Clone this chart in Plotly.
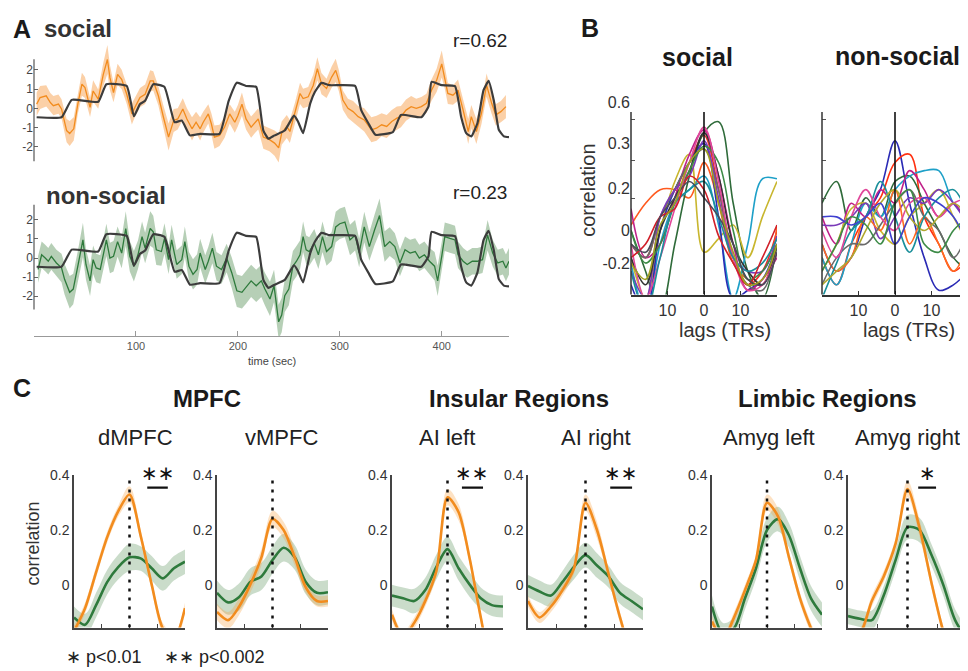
import plotly.graph_objects as go

# The page body has an 8px margin, so the figure is drawn 8px smaller and
# every reference pixel position is shifted by that offset.
W, H = 968, 671
OFF = 8
FIG_W, FIG_H = W - OFF, H - OFF
FONT = "Liberation Sans, Arial, sans-serif"

# ---------------- Panel A data ----------------
t_social = [2.6, 6, 12, 16, 19, 24, 27, 32, 35, 39, 43, 47, 50, 55, 58, 63, 68, 72, 74.5, 78,
            82, 86, 91, 96, 99, 104, 109, 114, 117, 122, 127, 132, 137, 141, 146, 150, 155, 159, 163, 166,
            171, 174, 177, 182, 187, 192, 197, 200, 204, 208, 213, 217, 220, 225, 231, 236, 240, 243, 248, 251,
            256, 261, 264, 269, 274, 278, 282, 287, 292, 296, 299, 303, 308, 313, 318, 324, 331, 336, 341, 346,
            351, 356, 360, 365, 370, 375, 380, 385, 390, 395, 400, 403, 406, 411, 416, 421, 426, 429, 434, 439,
            444, 449, 453, 458, 463]
social_mean = [0.22, 0.56, 0.65, 0.30, 0.14, 0.22, -0.03, -1.15, -1.30, -1.06,
               0.22, 1.25, 1.08, 0.05, 0.90, 0.48, 1.76, 2.53, 1.59, 0.82,
               1.76, 1.50, 0.73, -0.29, 0.05, 0.56, 0.73, 1.42, 1.42, 0.65,
               -0.46, -1.49, -0.63, -0.55, -0.03, -0.55, -1.06, -0.72, -1.06, -0.72,
               -0.29, -0.80, -1.49, -1.40, -0.97, -0.29, -0.72, -0.38, 0.22, -0.55,
               -0.97, -0.72, -0.55, -1.49, -1.62, -1.80, -2.05, -1.28, -0.94, -1.20,
               -0.26, 0.77, 0.51, 0.60, 1.20, 2.05, 1.28, 1.03, 1.62, 1.97,
               1.45, 0.43, 0.00, -0.17, -0.43, -0.60, -1.11, -1.03, -0.85, -0.94,
               -0.68, -0.51, -0.43, -0.09, 0.09, 0.00, 0.09, 0.26, 0.94, 1.45,
               2.30, 1.62, 0.77, 0.68, 0.94, -0.09, -1.20, -0.43, -1.20, -0.26,
               1.20, 0.26, -0.34, -0.17, 0.09]
social_sd = [0.6, 0.6, 0.55, 0.5, 0.5, 0.5, 0.5, 0.6, 0.65, 0.6,
             0.5, 0.6, 0.55, 0.5, 0.55, 0.5, 0.6, 0.75, 0.65, 0.5,
             0.55, 0.5, 0.5, 0.55, 0.5, 0.5, 0.5, 0.55, 0.5, 0.5,
             0.6, 0.7, 0.6, 0.55, 0.55, 0.55, 0.6, 0.55, 0.6, 0.55,
             0.5, 0.55, 0.6, 0.55, 0.55, 0.5, 0.55, 0.55, 0.6, 0.55,
             0.55, 0.55, 0.55, 0.6, 0.6, 0.65, 0.75, 0.6, 0.6, 0.6,
             0.55, 0.55, 0.5, 0.5, 0.55, 0.6, 0.55, 0.5, 0.55, 0.6,
             0.55, 0.5, 0.5, 0.55, 0.55, 0.6, 0.65, 0.65, 0.6, 0.6,
             0.6, 0.6, 0.55, 0.55, 0.55, 0.5, 0.5, 0.5, 0.55, 0.6,
             0.7, 0.6, 0.55, 0.5, 0.55, 0.55, 0.65, 0.6, 0.65, 0.55,
             0.6, 0.55, 0.55, 0.55, 0.6]

t_nonsocial = [4, 7.5, 11, 14, 17, 22, 27, 30, 35, 38.5, 43, 48, 51, 55, 58, 61, 65, 68, 71, 74.5,
               78, 82, 86, 90, 94, 98, 102, 106, 109, 114, 117, 120, 125, 128, 132, 135, 140, 145, 148, 152,
               156, 160, 163, 168, 171, 175, 179, 184, 189, 194, 199, 204, 208, 213, 218, 223, 226.5, 231.5, 235.5, 240,
               243, 246, 250, 254, 257.5, 261, 264, 267, 270, 275, 279, 283, 287, 292, 296, 300, 305, 310, 315, 319,
               324, 329, 334, 339, 344, 349, 354, 359, 364, 369, 374, 378, 383, 388, 393, 396, 400, 403, 408, 413,
               416, 421, 425, 430, 435, 440, 445, 450, 455, 460, 463, 466]
nonsocial_mean = [-0.60, 0.17, 0.00, -0.17, 0.09, -0.26, -0.52, -1.12, -1.80, -1.63,
                  -0.43, 0.95, -0.34, -1.20, -0.09, -0.52, -0.60, 0.26, 0.95, 0.00,
                  0.09, 0.86, 0.26, 1.55, 0.09, -0.43, 0.17, 1.12, 0.52, 1.55,
                  1.37, 0.43, 0.34, 1.03, -0.09, 0.95, -0.34, -0.09, 0.86, -0.43,
                  -0.86, -0.60, 0.26, -0.60, -0.17, 0.52, -0.43, -0.60, 0.00, -0.77,
                  -1.72, -1.80, -1.55, -1.20, -1.46, -1.20, -1.63, -2.15, -1.46, -3.35,
                  -3.00, -1.98, -1.63, -0.43, -0.17, 0.17, 1.12, 0.43, 0.34, 0.77,
                  0.17, 1.12, 0.34, 0.60, 1.63, 1.80, 1.89, 0.95, 1.20, 0.26,
                  1.63, 0.60, 1.46, 2.23, 0.60, 0.86, 0.60, -0.26, 0.43, 0.26,
                  0.34, 0.00, 0.17, -0.17, -0.43, -1.20, 0.09, 1.12, 1.03, 0.95,
                  0.17, -0.17, -0.34, -0.17, -0.17, -0.09, 1.20, 0.26, -0.26, -0.17,
                  -0.52, -0.17]
nonsocial_sd = [0.7, 0.7, 0.7, 0.7, 0.7, 0.7, 0.75, 0.8, 0.85, 0.8,
                0.8, 0.9, 0.8, 0.8, 0.75, 0.75, 0.75, 0.8, 0.85, 0.8,
                0.8, 0.8, 0.8, 0.9, 0.8, 0.8, 0.75, 0.8, 0.8, 0.9,
                0.85, 0.8, 0.75, 0.8, 0.75, 0.8, 0.75, 0.75, 0.8, 0.75,
                0.8, 0.8, 0.75, 0.75, 0.75, 0.8, 0.75, 0.75, 0.75, 0.8,
                0.85, 0.85, 0.85, 0.85, 0.85, 0.85, 0.85, 0.9, 0.85, 0.9,
                0.9, 0.85, 0.85, 0.8, 0.8, 0.75, 0.8, 0.75, 0.75, 0.75,
                0.75, 0.8, 0.75, 0.75, 0.8, 0.8, 0.8, 0.8, 0.8, 0.75,
                0.8, 0.75, 0.8, 0.9, 0.8, 0.75, 0.7, 0.7, 0.7, 0.7,
                0.7, 0.7, 0.7, 0.7, 0.75, 0.8, 0.75, 0.75, 0.75, 0.75,
                0.7, 0.7, 0.7, 0.7, 0.7, 0.7, 0.8, 0.7, 0.7, 0.7,
                0.7, 0.7]

t_model = [2.6, 27, 37, 63, 71, 91, 98, 104, 109, 117, 128, 138, 145, 153, 163, 182, 191, 199, 208, 218,
           225, 230, 236, 246, 255, 259, 264, 271, 275.5, 282, 290, 315, 321, 328, 335, 352, 360, 380, 387, 390,
           400, 413, 419, 424, 429, 435, 441, 446, 451, 456, 461, 466]
model_values = [-0.46, -0.46, 0.44, 0.34, 1.25, 1.16, -0.41, 0.22, 0.39, 1.25,
                1.11, -0.72, -0.63, -1.40, -1.32, -1.32, 0.39, 1.33, 1.16, 1.11,
                -1.15, -1.57, -1.40, -1.15, -0.38, -0.68, -1.28, 0.26, 0.85, 1.32,
                1.20, 1.16, -0.09, -0.77, -1.37, -1.23, -0.34, -0.46, 0.09, 1.37,
                1.20, 1.15, -0.43, -1.28, -1.45, -0.77, 0.94, 1.42, 0.43, -1.11,
                -1.45, -1.49]
A_yticks = [-2, -1, 0, 1, 2]
A_xticks = [100, 200, 300, 400]
r_social = "r=0.62"
r_nonsocial = "r=0.23"

# ---------------- Panel B data ----------------
lags_B = [-20, -16, -12, -8, -4, 0, 4, 8, 12, 16, 20]
B_social_curves = [
    [-0.05, -0.10, 0.05, 0.15, 0.25, 0.35, 0.15, -0.10, -0.20, -0.15, 0.00],
    [0.02, 0.10, 0.15, 0.15, 0.12, 0.25, 0.10, -0.12, -0.18, -0.20, 0.02],
    [0.00, -0.15, -0.30, -0.05, 0.20, 0.36, 0.40, 0.10, -0.15, -0.25, -0.05],
    [-0.12, -0.30, -0.05, 0.10, 0.15, 0.20, 0.02, -0.25, -0.05, 0.19, 0.19],
    [-0.10, -0.25, 0.00, 0.18, 0.28, -0.08, -0.03, 0.02, -0.10, 0.05, 0.18],
    [-0.20, -0.30, 0.00, 0.15, 0.25, 0.32, 0.05, -0.25, -0.22, -0.18, -0.05],
    [0.08, -0.10, -0.05, 0.12, 0.28, 0.37, 0.20, -0.05, -0.22, -0.18, -0.10],
    [-0.05, -0.10, 0.05, 0.15, 0.25, 0.30, 0.15, -0.10, -0.20, -0.22, -0.05],
    [-0.15, -0.25, 0.05, 0.15, 0.20, 0.33, 0.12, -0.10, -0.15, -0.15, -0.02],
    [-0.10, -0.20, 0.00, 0.12, 0.22, 0.36, 0.20, -0.05, -0.15, -0.20, -0.05],
    [0.00, -0.12, -0.05, 0.10, 0.22, 0.31, 0.25, 0.00, -0.18, -0.15, -0.05],
    [-0.05, -0.25, -0.10, 0.08, 0.25, 0.38, 0.18, -0.10, -0.22, -0.20, -0.08],
    [-0.15, -0.30, -0.10, 0.10, 0.15, 0.18, 0.05, -0.10, -0.15, -0.12, -0.03],
    [-0.10, -0.05, 0.05, 0.08, 0.20, 0.15, -0.02, -0.12, -0.20, -0.10, 0.02],
    [-0.05, -0.08, 0.05, 0.12, 0.18, 0.12, 0.05, -0.05, -0.18, -0.20, -0.08],
    [-0.12, -0.18, 0.02, 0.10, 0.25, 0.30, 0.10, -0.08, -0.20, -0.18, -0.05],
]
B_social_colors = ['#e8302a', '#ff5a1f', '#2f6b3a', '#1ea0c8', '#c8b62e', '#2b2bb5', '#c0218a', '#6a6a6a',
                   '#7a3ab8', '#333333', '#3d8b47', '#e0489a', '#1a8f9a', '#d0202a', '#4a4a5a', '#a0a020']
B_nonsocial_curves = [
    [-0.05, -0.15, -0.10, 0.05, 0.15, 0.33, 0.10, -0.10, -0.22, -0.20, -0.15],
    [-0.10, -0.20, -0.05, 0.05, 0.12, 0.25, 0.28, 0.05, -0.05, -0.15, -0.10],
    [0.10, 0.18, 0.00, 0.12, 0.05, 0.18, 0.20, 0.10, 0.00, -0.10, -0.15],
    [-0.10, -0.20, -0.05, 0.10, 0.05, 0.15, 0.20, 0.22, 0.22, 0.10, 0.05],
    [0.05, -0.05, 0.10, 0.05, 0.15, 0.10, 0.22, 0.15, 0.05, 0.10, 0.00],
    [-0.15, -0.05, 0.08, 0.10, 0.00, -0.05, 0.05, 0.10, 0.15, 0.05, -0.05],
    [0.02, 0.02, 0.05, 0.10, -0.03, 0.05, 0.12, 0.10, 0.15, 0.10, 0.02],
    [-0.05, -0.15, -0.10, 0.05, 0.00, 0.15, -0.05, 0.05, -0.05, -0.15, -0.05],
    [-0.20, -0.10, -0.05, -0.05, 0.02, 0.10, 0.15, 0.05, 0.00, -0.10, 0.00],
    [-0.25, -0.12, 0.00, 0.05, 0.18, 0.05, -0.08, 0.05, 0.12, 0.15, 0.05],
    [0.00, -0.10, 0.05, 0.15, 0.05, 0.00, 0.10, 0.12, 0.05, 0.10, 0.12],
    [-0.20, -0.15, -0.10, 0.00, 0.10, 0.15, 0.05, 0.00, 0.05, 0.10, 0.05],
    [0.05, 0.05, 0.02, 0.05, 0.10, -0.05, 0.05, 0.12, 0.10, 0.05, -0.05],
    [-0.15, -0.05, 0.05, 0.02, -0.05, 0.10, 0.15, -0.05, -0.08, 0.00, 0.05],
]
B_nonsocial_colors = ['#2b2bb5', '#ff3010', '#2f6b3a', '#1ea0c8', '#c0218a', '#c8b62e', '#7a3ab8',
                      '#ff6a20', '#6a6a6a', '#1a8f9a', '#e0489a', '#b0a830', '#4040d0', '#3d8b47']
B_ytick_vals = [0.47, 0.32, 0.153, 0.0, -0.12]
B_ytick_text = ["0.6", "0.3", "0.2", "0", "-0.2"]
B_minor_ticks = [0.407, 0.258, 0.116]
B_xtick_vals = [-10, 0, 10]
B_xtick_text = ["10", "0", "10"]

# ---------------- Panel C data ----------------
lags_C = [-10, -8, -6, -4, -2, 0, 2, 4, 6, 8, 10]
C_regions = ["dMPFC", "vMPFC", "AI left", "AI right", "Amyg left", "Amyg right"]
C_social = [
    [-0.17, -0.086, 0.047, 0.175, 0.27, 0.33, 0.18, 0.00, -0.16, -0.20, -0.086],
    [-0.10, -0.13, -0.08, 0.00, 0.10, 0.24, 0.20, 0.10, -0.01, -0.06, -0.06],
    [-0.11, -0.19, -0.14, -0.06, 0.05, 0.32, 0.265, 0.095, -0.12, -0.30, -0.35],
    [-0.06, -0.12, -0.08, -0.02, 0.06, 0.30, 0.20, 0.04, -0.12, -0.25, -0.30],
    [-0.135, -0.20, -0.12, -0.02, 0.09, 0.30, 0.25, 0.10, -0.05, -0.16, -0.25],
    [-0.20, -0.18, -0.06, 0.03, 0.15, 0.35, 0.21, 0.01, -0.17, -0.30, -0.35],
]
C_social_sd = [
    [0.02, 0.02, 0.02, 0.02, 0.02, 0.03, 0.02, 0.02, 0.02, 0.02, 0.02],
    [0.03, 0.03, 0.03, 0.03, 0.03, 0.03, 0.03, 0.03, 0.02, 0.02, 0.02],
    [0.02, 0.02, 0.02, 0.02, 0.02, 0.03, 0.03, 0.02, 0.02, 0.02, 0.02],
    [0.02, 0.02, 0.02, 0.02, 0.02, 0.03, 0.03, 0.02, 0.02, 0.02, 0.02],
    [0.02, 0.02, 0.02, 0.02, 0.02, 0.03, 0.03, 0.02, 0.02, 0.02, 0.02],
    [0.02, 0.02, 0.02, 0.02, 0.02, 0.03, 0.03, 0.02, 0.02, 0.02, 0.02],
]
C_nonsocial = [
    [-0.12, -0.147, -0.074, 0.01, 0.065, 0.10, 0.096, 0.06, 0.023, 0.06, 0.084],
    [-0.03, -0.065, -0.045, 0.01, 0.03, 0.09, 0.135, 0.10, 0.01, -0.03, -0.028],
    [-0.04, -0.05, -0.06, -0.02, 0.065, 0.13, 0.06, 0.00, -0.05, -0.075, -0.08],
    [-0.005, -0.025, -0.04, 0.01, 0.065, 0.108, 0.07, 0.03, -0.03, -0.06, -0.09],
    [-0.08, -0.18, -0.16, -0.05, 0.06, 0.20, 0.24, 0.18, 0.06, -0.05, -0.11],
    [-0.115, -0.125, -0.13, -0.04, 0.09, 0.21, 0.20, 0.11, 0.00, -0.13, -0.20],
]
C_nonsocial_sd = [
    [0.04, 0.04, 0.045, 0.045, 0.045, 0.05, 0.045, 0.045, 0.045, 0.045, 0.045],
    [0.045, 0.045, 0.05, 0.05, 0.05, 0.05, 0.05, 0.045, 0.045, 0.045, 0.045],
    [0.04, 0.04, 0.045, 0.045, 0.045, 0.045, 0.045, 0.045, 0.04, 0.04, 0.04],
    [0.04, 0.04, 0.04, 0.04, 0.045, 0.045, 0.045, 0.04, 0.04, 0.04, 0.04],
    [0.04, 0.04, 0.04, 0.04, 0.04, 0.045, 0.045, 0.045, 0.045, 0.045, 0.045],
    [0.03, 0.03, 0.035, 0.035, 0.04, 0.045, 0.045, 0.04, 0.04, 0.04, 0.04],
]
C_groups = ["MPFC", "Insular Regions", "Limbic Regions"]
C_yticks = [0.0, 0.2, 0.4]
C_yticktext = ["0", "0.2", "0.4"]
C_xticks = [-5, 0, 5]
# (region index, lag start, lag end, label)
C_sig_bars = [(0, 3.2, 6.9, "∗∗"), (2, 2.6, 6.4, "∗∗"), (3, 4.3, 8.1, "∗∗"), (5, 1.8, 4.8, "∗")]
C_sig_level = 0.355

# ---------------- colours ----------------
ORANGE = '#f28c1e'
ORANGE_BAND_A = 'rgba(248,170,95,0.55)'
GREEN = '#2e7a3c'
GREEN_BAND_A = 'rgba(110,160,110,0.5)'
ORANGE_BAND_C = 'rgba(247,160,60,0.3)'
GREEN_BAND_C = 'rgba(90,145,90,0.32)'
MODEL = '#3c3c3c'
TXT = '#1a1a1a'


# ---------------- layout geometry (reference pixels -> paper) ----------------
def fx(px):
    return (px - OFF) / FIG_W


def fy(px):
    return 1 - (px - OFF) / FIG_H


A_x_dom = [fx(34), fx(509)]
A_x_rng = [0, 466]
A1_y_dom = [fy(164), fy(37)]
A1_y_rng = [-3.2, 3.3]
A2_y_dom = [fy(332), fy(188)]
A2_y_rng = [-4.1, 3.37]
B_y_dom = [fy(290), fy(93)]
B_y_rng = [-0.236, 0.48]
B_x_rng = [-20, 20]
B1_x_dom = [fx(631), fx(777)]
B2_x_dom = [fx(822), 1.0]
C_y_dom = [fy(627), fy(473)]
C_y_rng = [-0.157, 0.4]
C_x_rng = [-10, 10]
C_x_doms = [[fx(74), fx(185)], [fx(217), fx(328)], [fx(392), fx(503)],
            [fx(528), fx(643)], [fx(712), fx(822)], [fx(848), min(1.0, fx(967))]]


def to_paper_y(v, dom, rng):
    return dom[0] + (v - rng[0]) / (rng[1] - rng[0]) * (dom[1] - dom[0])


fig = go.Figure()


def add_band(x, mean, sd, xa, ya, fillcolor, shape='linear'):
    lower = [m - s for m, s in zip(mean, sd)]
    upper = [m + s for m, s in zip(mean, sd)]
    fig.add_trace(go.Scatter(x=x, y=lower, mode='lines', line=dict(width=0, shape=shape),
                             xaxis=xa, yaxis=ya, showlegend=False, hoverinfo='skip'))
    fig.add_trace(go.Scatter(x=x, y=upper, mode='lines', line=dict(width=0, shape=shape),
                             fill='tonexty', fillcolor=fillcolor,
                             xaxis=xa, yaxis=ya, showlegend=False, hoverinfo='skip'))


# ---- Panel A ----
add_band(t_social, social_mean, social_sd, 'x', 'y', ORANGE_BAND_A)
fig.add_trace(go.Scatter(x=t_social, y=social_mean, mode='lines', line=dict(color=ORANGE, width=1.3),
                         xaxis='x', yaxis='y', showlegend=False))
fig.add_trace(go.Scatter(x=t_model, y=model_values, mode='lines',
                         line=dict(color=MODEL, width=2.2, shape='spline', smoothing=0.4),
                         xaxis='x', yaxis='y', showlegend=False))

add_band(t_nonsocial, nonsocial_mean, nonsocial_sd, 'x2', 'y2', GREEN_BAND_A)
fig.add_trace(go.Scatter(x=t_nonsocial, y=nonsocial_mean, mode='lines', line=dict(color=GREEN, width=1.3),
                         xaxis='x2', yaxis='y2', showlegend=False))
fig.add_trace(go.Scatter(x=t_model, y=model_values, mode='lines',
                         line=dict(color=MODEL, width=2.2, shape='spline', smoothing=0.4),
                         xaxis='x2', yaxis='y2', showlegend=False))

# ---- Panel B ----
for curve, col in zip(B_social_curves, B_social_colors):
    fig.add_trace(go.Scatter(x=lags_B, y=curve, mode='lines',
                             line=dict(color=col, width=1.6, shape='spline', smoothing=1.0),
                             xaxis='x3', yaxis='y3', showlegend=False))
for curve, col in zip(B_nonsocial_curves, B_nonsocial_colors):
    fig.add_trace(go.Scatter(x=lags_B, y=curve, mode='lines',
                             line=dict(color=col, width=1.6, shape='spline', smoothing=1.0),
                             xaxis='x4', yaxis='y4', showlegend=False))

# ---- Panel C ----
for i in range(6):
    xa = 'x%d' % (i + 5)
    ya = 'y%d' % (i + 5)
    add_band(lags_C, C_nonsocial[i], C_nonsocial_sd[i], xa, ya, GREEN_BAND_C, shape='spline')
    add_band(lags_C, C_social[i], C_social_sd[i], xa, ya, ORANGE_BAND_C, shape='spline')
    fig.add_trace(go.Scatter(x=lags_C, y=C_nonsocial[i], mode='lines',
                             line=dict(color=GREEN, width=2.6, shape='spline', smoothing=0.8),
                             xaxis=xa, yaxis=ya, showlegend=False))
    fig.add_trace(go.Scatter(x=lags_C, y=C_social[i], mode='lines',
                             line=dict(color=ORANGE, width=2.6, shape='spline', smoothing=0.8),
                             xaxis=xa, yaxis=ya, showlegend=False))

# ---------------- axes ----------------
base = dict(showgrid=False, zeroline=False, fixedrange=True)
tickfont_A = dict(family=FONT, size=12, color='#444')

layout_axes = {}
layout_axes['xaxis'] = dict(base, domain=A_x_dom, range=A_x_rng, visible=False, anchor='y')
layout_axes['yaxis'] = dict(base, domain=A1_y_dom, range=A1_y_rng, anchor='x', showline=False,
                            tickmode='array', tickvals=A_yticks, ticktext=[str(v) for v in A_yticks],
                            ticks='inside', ticklen=4, tickcolor='#666', tickfont=tickfont_A)
layout_axes['xaxis2'] = dict(base, domain=A_x_dom, range=A_x_rng, anchor='y2', showline=True,
                             linecolor='#999', linewidth=1.2, tickmode='array', tickvals=A_xticks,
                             ticks='inside', ticklen=5, tickcolor='#999',
                             tickfont=dict(family=FONT, size=11, color='#555'))
layout_axes['yaxis2'] = dict(base, domain=A2_y_dom, range=A2_y_rng, anchor='x2', showline=False,
                             tickmode='array', tickvals=A_yticks, ticktext=[str(v) for v in A_yticks],
                             ticks='inside', ticklen=4, tickcolor='#666', tickfont=tickfont_A)

tickfont_B = dict(family=FONT, size=16, color='#333')
for k, dom in ((3, B1_x_dom), (4, B2_x_dom)):
    layout_axes['xaxis%d' % k] = dict(base, domain=dom, range=B_x_rng, anchor='y%d' % k, showline=True,
                                      linecolor='#333', linewidth=1.5, tickmode='array',
                                      tickvals=B_xtick_vals, ticktext=B_xtick_text, ticks='inside',
                                      ticklen=4, tickcolor='#333', tickfont=tickfont_B)
    layout_axes['yaxis%d' % k] = dict(base, domain=B_y_dom, range=B_y_rng, anchor='x%d' % k,
                                      showline=False, tickmode='array', tickvals=B_ytick_vals,
                                      ticktext=B_ytick_text, ticks='', tickfont=tickfont_B,
                                      showticklabels=(k == 3),
                                      minor=dict(tickmode='array', tickvals=B_minor_ticks, ticks='inside',
                                                 ticklen=4, tickcolor='#555', tickwidth=1))

tickfont_C = dict(family=FONT, size=14, color='#333')
for i in range(6):
    k = i + 5
    layout_axes['xaxis%d' % k] = dict(base, domain=C_x_doms[i], range=C_x_rng, anchor='y%d' % k,
                                      showline=True, linecolor='#444', linewidth=1.5, tickmode='array',
                                      tickvals=C_xticks, ticks='inside', ticklen=4, tickcolor='#444',
                                      showticklabels=False)
    layout_axes['yaxis%d' % k] = dict(base, domain=C_y_dom, range=C_y_rng, anchor='x%d' % k,
                                      showline=True, linecolor='#444', linewidth=1.5, tickmode='array',
                                      tickvals=C_yticks, ticktext=C_yticktext, ticks='',
                                      tickfont=tickfont_C)

# ---------------- shapes ----------------
shapes = []
# Panel A y-axis lines
shapes.append(dict(type='line', xref='paper', yref='paper', x0=A_x_dom[0], x1=A_x_dom[0],
                   y0=to_paper_y(-2.74, A1_y_dom, A1_y_rng), y1=to_paper_y(2.54, A1_y_dom, A1_y_rng),
                   line=dict(color='#555', width=1.2)))
shapes.append(dict(type='line', xref='paper', yref='paper', x0=A_x_dom[0], x1=A_x_dom[0],
                   y0=to_paper_y(-2.7, A2_y_dom, A2_y_rng), y1=to_paper_y(2.8, A2_y_dom, A2_y_rng),
                   line=dict(color='#555', width=1.2)))
# Panel B y-axis lines and zero-lag lines
for k, dom in ((3, B1_x_dom), (4, B2_x_dom)):
    shapes.append(dict(type='line', xref='paper', yref='paper', x0=dom[0], x1=dom[0],
                       y0=B_y_dom[0], y1=to_paper_y(0.436, B_y_dom, B_y_rng),
                       line=dict(color='#333', width=1.5)))
    shapes.append(dict(type='line', xref='x%d' % k, yref='y%d' % k, x0=0, x1=0,
                       y0=B_y_rng[0], y1=0.436, line=dict(color='#111', width=1.6)))
# Panel C dotted zero-lag lines and significance bars
for i in range(6):
    k = i + 5
    shapes.append(dict(type='line', xref='x%d' % k, yref='y%d' % k, x0=0, x1=0,
                       y0=C_y_rng[0], y1=0.4, line=dict(color='#111', width=2.5, dash='3px,6px')))
for idx, l0, l1, lab in C_sig_bars:
    k = idx + 5
    shapes.append(dict(type='line', xref='x%d' % k, yref='y%d' % k, x0=l0, x1=l1,
                       y0=C_sig_level, y1=C_sig_level, line=dict(color='#111', width=2.2)))

# ---------------- annotations ----------------
ann = []


def txt(text, x, y, size, bold=False, xanchor='center', yanchor='middle', angle=0, color=TXT, family=FONT):
    if bold:
        text = '<b>%s</b>' % text
    ann.append(dict(text=text, x=fx(x), y=fy(y), xref='paper', yref='paper', showarrow=False,
                    xanchor=xanchor, yanchor=yanchor, textangle=angle,
                    font=dict(family=family, size=size, color=color)))


txt('A', 11, 21, 25, bold=True, xanchor='left')
txt('social', 42, 21, 24, bold=True, xanchor='left', color='#333')
txt(r_social, 451, 33, 19, xanchor='left', color='#222')
txt('non-social', 44, 190, 24, bold=True, xanchor='left', color='#333')
txt(r_nonsocial, 451, 187, 19, xanchor='left', color='#222')
txt('time (sec)', 272, 357, 11, color='#444')

txt('B', 579, 20, 25, bold=True, xanchor='left')
txt('social', 697, 50, 25, bold=True)
txt('non-social', 897, 48, 25, bold=True)
txt('correlation', 588, 185, 20, angle=-90, color='#333')
txt('lags (TRs)', 725, 326, 20, color='#333')
txt('lags (TRs)', 909, 326, 20, color='#333')

txt('C', 11, 385, 25, bold=True, xanchor='left')
group_x = [207, 519, 827]
for g, gx in zip(C_groups, group_x):
    txt(g, gx, 395, 24, bold=True)
sub_x = [135, 281, 447, 596, 769, 907]
for r, sx in zip(C_regions, sub_x):
    txt(r, sx, 435, 22, color='#222')
txt('correlation', 33, 542, 18, angle=-90, color='#333')
txt('∗ p<0.01', 64, 657, 18, xanchor='left', color='#222')
txt('∗∗ p<0.002', 162, 657, 18, xanchor='left', color='#222')

for idx, l0, l1, lab in C_sig_bars:
    k = idx + 5
    ann.append(dict(text=lab, x=(l0 + l1) / 2, y=C_sig_level, xref='x%d' % k, yref='y%d' % k,
                    showarrow=False, yanchor='bottom', yshift=1,
                    font=dict(family='DejaVu Sans', size=20, color='#111')))

fig.update_layout(
    width=FIG_W, height=FIG_H,
    margin=dict(l=0, r=0, t=0, b=0),
    paper_bgcolor='white', plot_bgcolor='white',
    showlegend=False,
    font=dict(family=FONT),
    shapes=shapes,
    annotations=ann,
    **layout_axes,
)

fig.write_html("out.html")
